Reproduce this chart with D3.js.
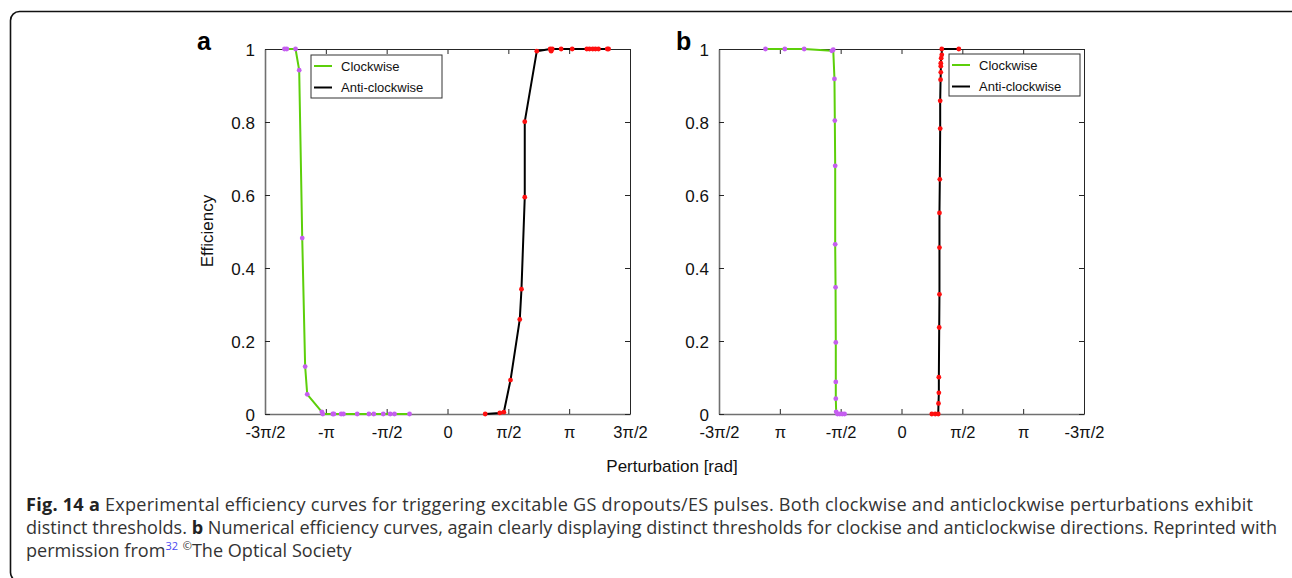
<!DOCTYPE html>
<html>
<head>
<meta charset="utf-8">
<script src="https://cdn.jsdelivr.net/npm/d3@7"></script>
<style>
  body { margin: 0; background: #fff; }
  svg { display: block; }
</style>
</head>
<body>
<svg id="fig"></svg>
<script>
// x values are in units of pi (rad / pi)
var xTickVals = [-1.5, -1, -0.5, 0, 0.5, 1, 1.5]
var xTickLabelsA = ["-3π/2", "-π", "-π/2", "0", "π/2", "π", "3π/2"]
var xTickLabelsB = ["-3π/2", "π", "-π/2", "0", "π/2", "π", "-3π/2"]
var yTickVals = [0, 0.2, 0.4, 0.6, 0.8, 1]
var yTickLabels = ["0", "0.2", "0.4", "0.6", "0.8", "1"]

// panel a, experiment
var aClockX = [-1.340, -1.321, -1.249, -1.219, -1.194, -1.170, -1.153, -1.033, -1.025, -0.943, -0.934, -0.874, -0.855, -0.742, -0.646, -0.606, -0.528, -0.471, -0.436, -0.312]
var aClockY = [1, 1, 1, 0.942, 0.482, 0.130, 0.054, 0.006, 0, 0, 0, 0, 0, 0, 0, 0, 0, 0, 0, 0]
var aAntiX = [0.310, 0.430, 0.463, 0.518, 0.594, 0.608, 0.635, 0.635, 0.734, 0.844, 0.852, 0.861, 0.934, 1.025, 1.145, 1.167, 1.194, 1.216, 1.241, 1.313, 1.324]
var aAntiY = [0, 0.003, 0.005, 0.093, 0.259, 0.342, 0.594, 0.801, 0.994, 1, 0.994, 1, 1, 1, 1, 1, 1, 1, 1, 1, 1]

// panel b, numerics
var bClockX = [-1.118, -0.959, -0.800, -0.573, -0.561, -0.551, -0.548, -0.545, -0.545, -0.542, -0.540, -0.540, -0.540, -0.537, -0.526, -0.507, -0.487, -0.468]
var bClockY = [1, 1, 1, 0.995, 0.998, 0.918, 0.804, 0.680, 0.465, 0.347, 0.196, 0.088, 0.042, 0.006, 0, 0, 0, 0]
var bAntiX = [0.249, 0.277, 0.302, 0.304, 0.307, 0.307, 0.310, 0.312, 0.312, 0.312, 0.315, 0.318, 0.318, 0.321, 0.323, 0.323, 0.323, 0.326, 0.331, 0.331, 0.471]
var bAntiY = [0, 0, 0, 0.029, 0.058, 0.101, 0.237, 0.328, 0.456, 0.551, 0.643, 0.782, 0.858, 0.916, 0.936, 0.953, 0.961, 0.975, 0.984, 1, 1]

var legendNames = ["Clockwise", "Anti-clockwise"]

var width = 1292, height = 578
var svg = d3.select("#fig").attr("width", width).attr("height", height)

var colors = {
    clock: "#5ccf0a",
    clockMark: "#c55ef0",
    anti: "#000000",
    antiMark: "#ff1010",
    axisDark: "#262626",
    axisGray: "#707070"
}

// outer frame
svg.append("rect")
    .attr("x", 10.5).attr("y", 11.5)
    .attr("width", 1292).attr("height", 570)
    .attr("rx", 9)
    .attr("fill", "none")
    .attr("stroke", "#111")
    .attr("stroke-width", 1.6)

var zip = (xs, ys) => xs.map((x, i) => ({x: x, y: ys[i]}))

function drawPanel(opts) {
    var m = opts.box
    var xScale = d3.scaleLinear().domain([-1.5, 1.5]).range([m.left, m.right])
    var yScale = d3.scaleLinear().domain([0, 1]).range([m.bottom, m.top])
    var g = svg.append("g")

    // axes (box style, ticks inside)
    var xAxisGen = d3.axisBottom(xScale).tickValues(xTickVals)
        .tickFormat((d, i) => opts.xLabels[i]).tickSizeInner(-5).tickSizeOuter(0).tickPadding(12)
    var xAxis = g.append("g")
        .attr("transform", `translate(0,${m.bottom})`)
        .call(xAxisGen)
    var xTopGen = d3.axisTop(xScale).tickValues(xTickVals).tickFormat("").tickSizeInner(-5).tickSizeOuter(0)
    g.append("g").attr("transform", `translate(0,${m.top})`).call(xTopGen)

    var yAxisGen = d3.axisLeft(yScale).tickValues(yTickVals)
        .tickFormat((d, i) => yTickLabels[i]).tickSizeInner(-5).tickSizeOuter(0).tickPadding(10)
    var yAxis = g.append("g")
        .attr("transform", `translate(${m.left},0)`)
        .call(yAxisGen)
    var yRightGen = d3.axisRight(yScale).tickValues(yTickVals).tickFormat("").tickSizeInner(-5).tickSizeOuter(0)
    g.append("g").attr("transform", `translate(${m.right},0)`).call(yRightGen)

    g.selectAll(".domain").attr("stroke", colors.axisDark).attr("stroke-width", 1)
    g.selectAll(".tick line").attr("stroke", colors.axisDark)
    xAxis.select(".domain").attr("stroke", colors.axisGray).attr("stroke-width", 1.6)
    yAxis.select(".domain").attr("stroke", colors.axisGray).attr("stroke-width", 1.6)
    g.selectAll(".tick text")
        .attr("font-family", "Liberation Sans, Arial, sans-serif")
        .attr("fill", "#111")
    xAxis.selectAll(".tick text").attr("font-size", 16.5)
    yAxis.selectAll(".tick text").attr("font-size", 17).attr("dy", "0.36em")

    var line = d3.line().x(d => xScale(d.x)).y(d => yScale(d.y))
    var series = [
        {pts: zip(opts.clockX, opts.clockY), stroke: colors.clock, mark: colors.clockMark},
        {pts: zip(opts.antiX, opts.antiY), stroke: colors.anti, mark: colors.antiMark}
    ]
    series.forEach(s => {
        g.append("path")
            .datum(s.pts)
            .attr("d", line)
            .attr("fill", "none")
            .attr("stroke", s.stroke)
            .attr("stroke-width", 2)
            .attr("stroke-linejoin", "round")
        g.append("g")
            .selectAll("circle")
            .data(s.pts)
            .enter()
            .append("circle")
            .attr("cx", d => xScale(d.x))
            .attr("cy", d => yScale(d.y))
            .attr("r", 2.4)
            .attr("fill", s.mark)
    })

    // legend
    var lg = opts.legend
    var legend = g.append("g").attr("transform", `translate(${lg.x},${lg.y})`)
    legend.append("rect")
        .attr("width", lg.w).attr("height", lg.h)
        .attr("fill", "#fff").attr("stroke", "#333").attr("stroke-width", 1)
    legendNames.forEach((name, i) => {
        var yy = 11 + i * 21.5
        legend.append("line")
            .attr("x1", 3).attr("x2", 21).attr("y1", yy).attr("y2", yy)
            .attr("stroke", i === 0 ? colors.clock : colors.anti)
            .attr("stroke-width", 2)
        legend.append("text")
            .attr("x", 30).attr("y", yy)
            .attr("dy", "0.35em")
            .attr("font-family", "Liberation Sans, Arial, sans-serif")
            .attr("font-size", 13)
            .attr("fill", "#111")
            .text(name)
    })

    // panel letter
    svg.append("text")
        .attr("x", opts.letterX).attr("y", 50)
        .attr("font-family", "Liberation Sans, Arial, sans-serif")
        .attr("font-weight", "bold")
        .attr("font-size", 25)
        .attr("fill", "#000")
        .text(opts.letter)
}

drawPanel({
    box: {left: 265, right: 630, top: 49, bottom: 414},
    xLabels: xTickLabelsA,
    clockX: aClockX, clockY: aClockY, antiX: aAntiX, antiY: aAntiY,
    legend: {x: 311, y: 55, w: 131, h: 43},
    letter: "a", letterX: 197
})
drawPanel({
    box: {left: 719, right: 1084, top: 49, bottom: 414},
    xLabels: xTickLabelsB,
    clockX: bClockX, clockY: bClockY, antiX: bAntiX, antiY: bAntiY,
    legend: {x: 949, y: 54, w: 131, h: 42},
    letter: "b", letterX: 676
})

// axis titles
svg.append("text")
    .attr("text-anchor", "middle")
    .attr("transform", "translate(213,231) rotate(-90)")
    .attr("font-family", "Liberation Sans, Arial, sans-serif")
    .attr("font-size", 17)
    .attr("fill", "#111")
    .text("Efficiency")
svg.append("text")
    .attr("text-anchor", "middle")
    .attr("x", 672).attr("y", 472)
    .attr("font-family", "Liberation Sans, Arial, sans-serif")
    .attr("font-size", 17)
    .attr("fill", "#111")
    .text("Perturbation [rad]")

// caption
var capFont = "Open Sans, Noto Sans, sans-serif"
var capLines = [
    [{t: "Fig. 14 a", b: true}, {t: " Experimental efficiency curves for triggering excitable GS dropouts/ES pulses. Both clockwise and anticlockwise perturbations exhibit"}],
    [{t: "distinct thresholds. "}, {t: "b", b: true}, {t: " Numerical efficiency curves, again clearly displaying distinct thresholds for clockise and anticlockwise directions. Reprinted with"}],
    [{t: "permission from"}, {t: "32", sup: true}, {t: " "}, {t: "©", sup: true}, {t: "The Optical Society"}]
]
var capTargets = [1227, 1251, null]
var capTexts = capLines.map((parts, i) => {
    var txt = svg.append("text")
        .attr("x", 26).attr("y", 511 + i * 23)
        .attr("font-family", capFont)
        .attr("font-size", 16)
        .attr("fill", "#333")
    parts.forEach(p => {
        var ts = txt.append("tspan").text(p.t)
        if (p.b) ts.attr("font-weight", "bold").attr("fill", "#222")
        if (p.sup) ts.attr("font-size", 11).attr("baseline-shift", "super")
            .attr("fill", p.t === "32" ? "#4a4af0" : "#333")
    })
    return txt
})
// one size for every caption line, small enough for the widest one
var capSize = d3.min([0, 1], i => 16 * capTargets[i] / capTexts[i].node().getComputedTextLength())
capTexts.forEach(t => t.attr("font-size", capSize))
// then spread the two full lines to their measured widths
capTargets.forEach((w, i) => {
    if (w) capTexts[i].attr("textLength", w).attr("lengthAdjust", "spacing")
})
</script>
</body>
</html>
